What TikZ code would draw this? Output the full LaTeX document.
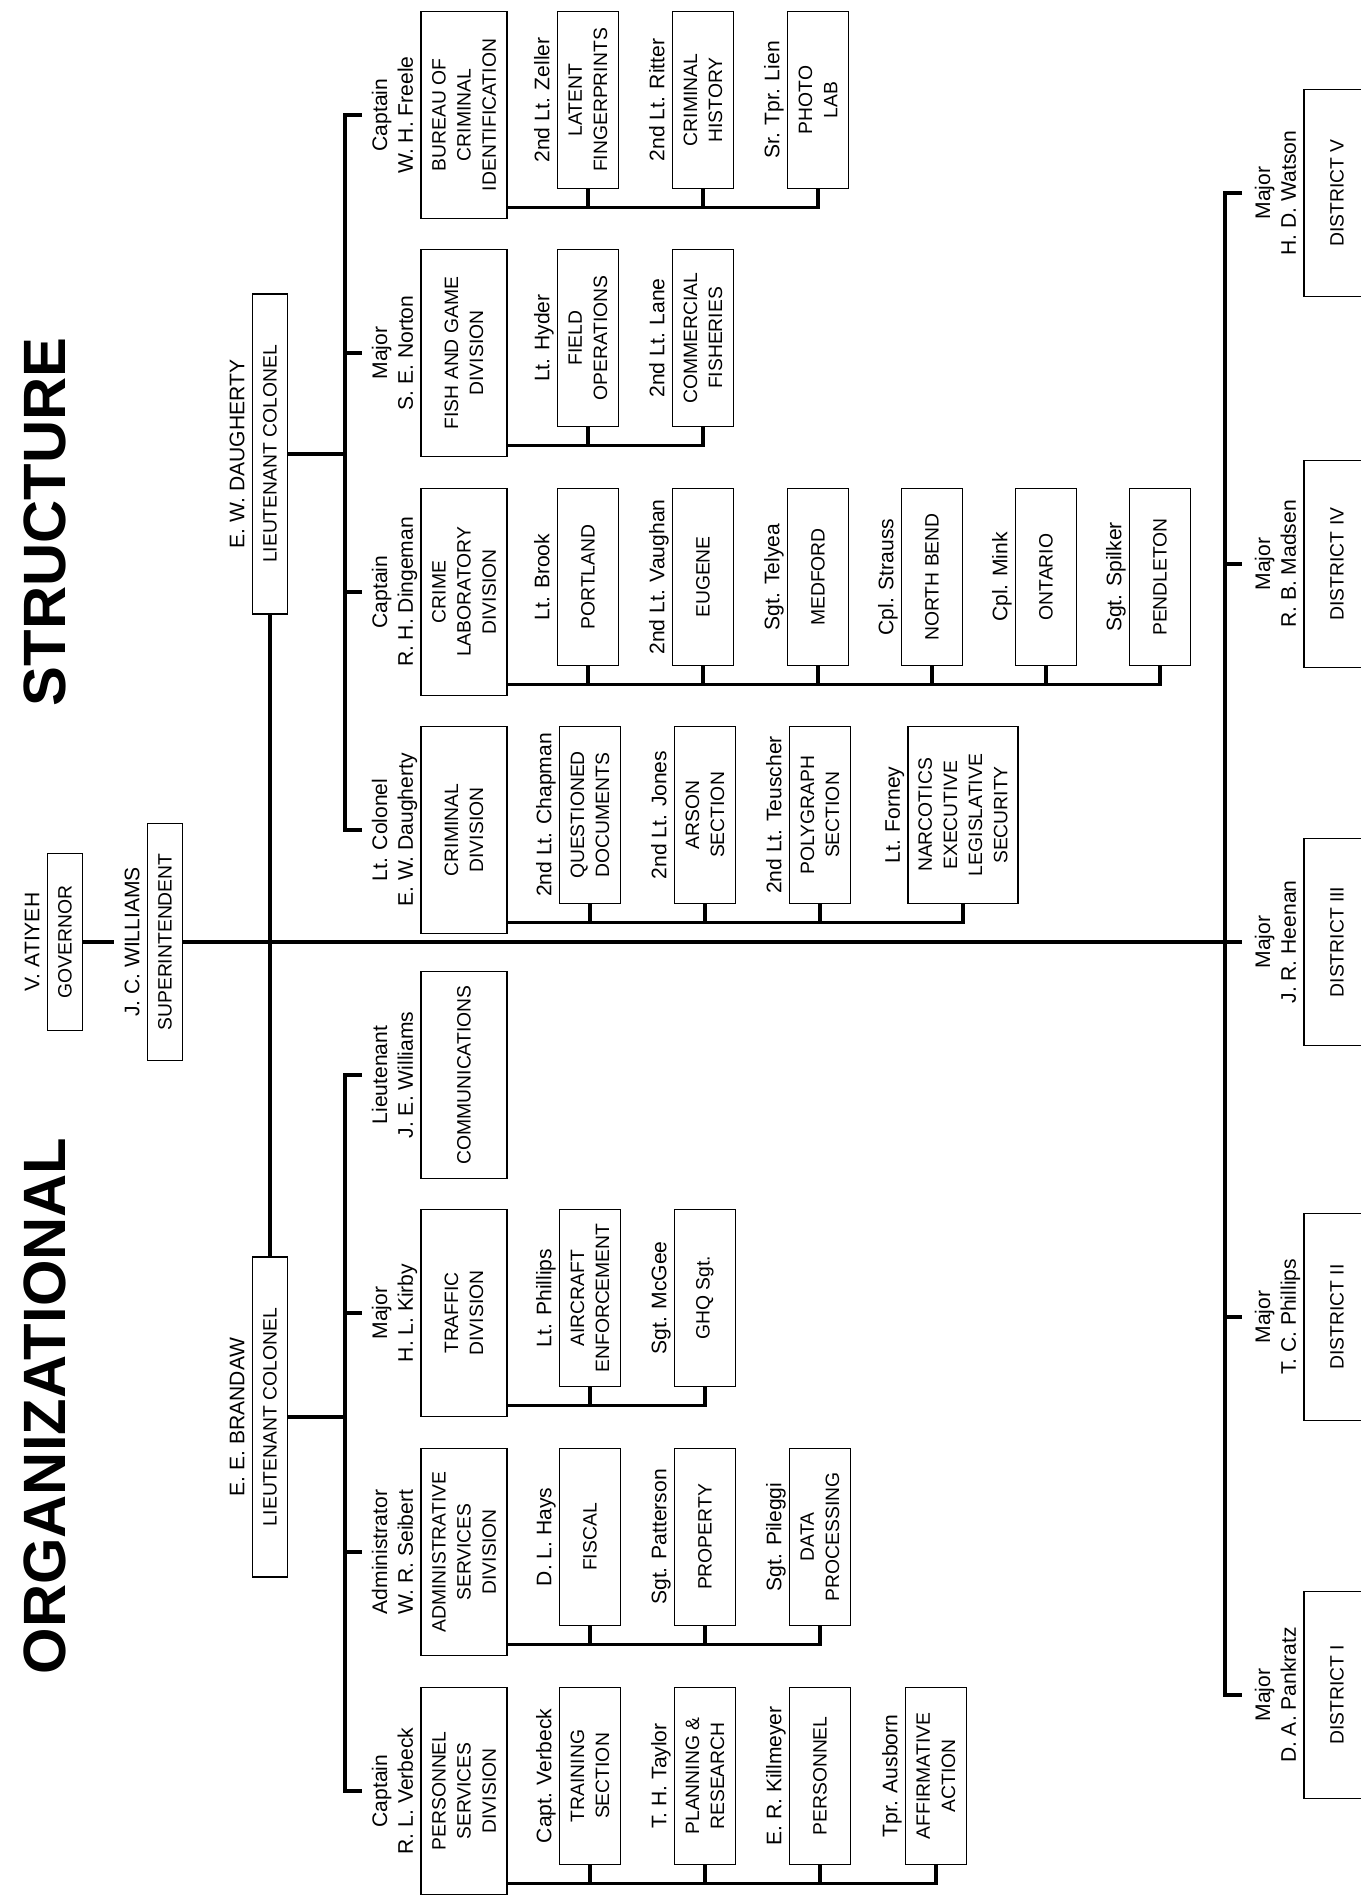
\documentclass[tikz,border=0pt]{standalone}
\usepackage{fontspec}
\setmainfont{Liberation Sans}
\usetikzlibrary{positioning,calc}
\tikzset{
  boxed/.style={draw,line width=0.9pt,align=center,inner sep=1pt,
    font=\fontsize{11}{14.3}\selectfont},
  topbox/.style={boxed,minimum height=0.7cm},
  divbox/.style={boxed,minimum width=4.14cm,minimum height=1.72cm},
  unitbox/.style={boxed,minimum width=3.54cm,minimum height=1.22cm},
  distbox/.style={boxed,minimum width=4.14cm,minimum height=1.32cm},
  who/.style={align=center,inner sep=0pt,text depth=0pt,
    font=\fontsize{12}{14.7}\selectfont},
  headline/.style={inner sep=0pt,font=\fontsize{34}{40}\selectfont\bfseries},
  trunk/.style={line width=2.6pt},
  feed/.style={line width=1.8pt},
  unitstub/.style={line width=2.5pt}
}
\begin{document}
\begin{tikzpicture}[x=0.02cm,y=-0.02cm,node distance=0.14cm]
\begin{scope}[rotate=90,transform shape]
\useasboundingbox (0,0) rectangle (1898,1361);
\clip (0,0) rectangle (1898,1361);

% titles
\node[headline] (orgtitle) at (492,45) {ORGANIZATIONAL};
\node[headline] (structtitle) at (1376,45) {STRUCTURE};

% governor, superintendent, lieutenant colonels
\node[topbox,minimum width=3.54cm] (gov) at (956,65) {GOVERNOR};
\node[who,above=of gov] (govname) {V. ATIYEH};
\node[topbox,minimum width=4.74cm] (sup) at (956,165) {SUPERINTENDENT};
\node[who,above=of sup] (supname) {J. C. WILLIAMS};
\node[topbox,minimum width=6.4cm] (lcd) at (1444,270) {LIEUTENANT COLONEL};
\node[who,above=of lcd] (lcdname) {E. W. DAUGHERTY};
\node[topbox,minimum width=6.4cm] (lcb) at (481,270) {LIEUTENANT COLONEL};
\node[who,above=of lcb] (lcbname) {E. E. BRANDAW};

% divisions
\node[divbox] (bci) at (1783,464) {BUREAU OF\\CRIMINAL\\IDENTIFICATION};
\node[who,above=of bci] (bciname) {Captain\\W. H. Freele};
\node[divbox] (fgd) at (1545,464) {FISH AND GAME\\DIVISION};
\node[who,above=of fgd] (fgdname) {Major\\S. E. Norton};
\node[divbox] (cld) at (1306,464) {CRIME\\LABORATORY\\DIVISION};
\node[who,above=of cld] (cldname) {Captain\\R. H. Dingeman};
\node[divbox] (crd) at (1068,464) {CRIMINAL\\DIVISION};
\node[who,above=of crd] (crdname) {Lt. Colonel\\E. W. Daugherty};
\node[divbox] (com) at (823,464) {COMMUNICATIONS};
\node[who,above=of com] (comname) {Lieutenant\\J. E. Williams};
\node[divbox] (trd) at (585,464) {TRAFFIC\\DIVISION};
\node[who,above=of trd] (trdname) {Major\\H. L. Kirby};
\node[divbox] (asd) at (346,464) {ADMINISTRATIVE\\SERVICES\\DIVISION};
\node[who,above=of asd] (asdname) {Administrator\\W. R. Seibert};
\node[divbox] (psd) at (107,464) {PERSONNEL\\SERVICES\\DIVISION};
\node[who,above=of psd] (psdname) {Captain\\R. L. Verbeck};

% bureau of criminal identification
\node[unitbox] (latent) at (1798,588) {LATENT\\FINGERPRINTS};
\node[who,above=of latent] (latentname) {2nd Lt. Zeller};
\node[unitbox] (crimhist) at (1798,703) {CRIMINAL\\HISTORY};
\node[who,above=of crimhist] (crimhistname) {2nd Lt. Ritter};
\node[unitbox] (photo) at (1798,818) {PHOTO\\LAB};
\node[who,above=of photo] (photoname) {Sr. Tpr. Lien};

% fish and game
\node[unitbox] (fieldops) at (1560,588) {FIELD\\OPERATIONS};
\node[who,above=of fieldops] (fieldopsname) {Lt. Hyder};
\node[unitbox] (comfish) at (1560,703) {COMMERCIAL\\FISHERIES};
\node[who,above=of comfish] (comfishname) {2nd Lt. Lane};

% crime laboratory
\node[unitbox] (portland) at (1321,588) {PORTLAND};
\node[who,above=of portland] (portlandname) {Lt. Brook};
\node[unitbox] (eugene) at (1321,703) {EUGENE};
\node[who,above=of eugene] (eugenename) {2nd Lt. Vaughan};
\node[unitbox] (medford) at (1321,818) {MEDFORD};
\node[who,above=of medford] (medfordname) {Sgt. Telyea};
\node[unitbox] (northbend) at (1321,932) {NORTH BEND};
\node[who,above=of northbend] (northbendname) {Cpl. Strauss};
\node[unitbox] (ontario) at (1321,1046) {ONTARIO};
\node[who,above=of ontario] (ontarioname) {Cpl. Mink};
\node[unitbox] (pendleton) at (1321,1160) {PENDLETON};
\node[who,above=of pendleton] (pendletonname) {Sgt. Spilker};

% criminal division
\node[unitbox] (questdoc) at (1083,590) {QUESTIONED\\DOCUMENTS};
\node[who,above=of questdoc] (questdocname) {2nd Lt. Chapman};
\node[unitbox] (arson) at (1083,705) {ARSON\\SECTION};
\node[who,above=of arson] (arsonname) {2nd Lt. Jones};
\node[unitbox] (polygraph) at (1083,820) {POLYGRAPH\\SECTION};
\node[who,above=of polygraph] (polygraphname) {2nd Lt. Teuscher};
\node[unitbox,minimum height=2.2cm] (narcotics) at (1083,963) {NARCOTICS\\EXECUTIVE\\LEGISLATIVE\\SECURITY};
\node[who,above=of narcotics] (narcoticsname) {Lt. Forney};

% traffic
\node[unitbox] (aircraft) at (600,590) {AIRCRAFT\\ENFORCEMENT};
\node[who,above=of aircraft] (aircraftname) {Lt. Phillips};
\node[unitbox] (ghq) at (600,705) {GHQ Sgt.};
\node[who,above=of ghq] (ghqname) {Sgt. McGee};

% administrative services
\node[unitbox] (fiscal) at (361,590) {FISCAL};
\node[who,above=of fiscal] (fiscalname) {D. L. Hays};
\node[unitbox] (property) at (361,705) {PROPERTY};
\node[who,above=of property] (propertyname) {Sgt. Patterson};
\node[unitbox] (dataproc) at (361,820) {DATA\\PROCESSING};
\node[who,above=of dataproc] (dataprocname) {Sgt. Pileggi};

% personnel services
\node[unitbox] (training) at (122,590) {TRAINING\\SECTION};
\node[who,above=of training] (trainingname) {Capt. Verbeck};
\node[unitbox] (planning) at (122,705) {PLANNING \&\\RESEARCH};
\node[who,above=of planning] (planningname) {T. H. Taylor};
\node[unitbox] (personnel) at (122,820) {PERSONNEL};
\node[who,above=of personnel] (personnelname) {E. R. Killmeyer};
\node[unitbox] (affirm) at (122,936) {AFFIRMATIVE\\ACTION};
\node[who,above=of affirm] (affirmname) {Tpr. Ausborn};

% districts
\node[distbox] (d5) at (1705,1337) {DISTRICT V};
\node[who,above=of d5] (d5name) {Major\\H. D. Watson};
\node[distbox] (d4) at (1334,1337) {DISTRICT IV};
\node[who,above=of d4] (d4name) {Major\\R. B. Madsen};
\node[distbox] (d3) at (956,1337) {DISTRICT III};
\node[who,above=of d3] (d3name) {Major\\J. R. Heenan};
\node[distbox] (d2) at (581,1337) {DISTRICT II};
\node[who,above=of d2] (d2name) {Major\\T. C. Phillips};
\node[distbox] (d1) at (203,1337) {DISTRICT I};
\node[who,above=of d1] (d1name) {Major\\D. A. Pankratz};

% chain of command
\coordinate (divbar) at (0,345);
\coordinate (distbar) at (0,1225);
\draw[trunk,shorten >=0.2cm] (gov.south) -- (supname.north);
\draw[trunk] (sup.south) -- ($(d3.north)+(0,-61)$);
\draw[trunk] (lcd.west) -- (lcb.east);
\draw[trunk] (lcd.south) -- (lcd.south |- divbar);
\draw[trunk] (lcb.south) -- (lcb.south |- divbar);
\draw[trunk] ($(bci.north)+(0,-58)$) -- (bci.north |- divbar) -- (crd.north |- divbar) -- ($(crd.north)+(0,-58)$);
\draw[trunk] (fgd.north |- divbar) -- ($(fgd.north)+(0,-58)$);
\draw[trunk] (cld.north |- divbar) -- ($(cld.north)+(0,-58)$);
\draw[trunk] ($(com.north)+(0,-58)$) -- (com.north |- divbar) -- (psd.north |- divbar) -- ($(psd.north)+(0,-58)$);
\draw[trunk] (trd.north |- divbar) -- ($(trd.north)+(0,-58)$);
\draw[trunk] (asd.north |- divbar) -- ($(asd.north)+(0,-58)$);
\draw[trunk] ($(d5.north)+(0,-61)$) -- (d5.north |- distbar) -- (d1.north |- distbar) -- ($(d1.north)+(0,-61)$);
\draw[trunk] (d4.north |- distbar) -- ($(d4.north)+(0,-61)$);
\draw[trunk] (d2.north |- distbar) -- ($(d2.north)+(0,-61)$);

% feeds to the units
\coordinate (bcifeed) at ($(bci.south west)+(12,0)$);
\draw[feed] (bcifeed) |- (photo.west);
\draw[unitstub] (latent.west) -- (latent.west -| bcifeed) (crimhist.west) -- (crimhist.west -| bcifeed)
  (photo.west) -- (photo.west -| bcifeed);
\coordinate (fgdfeed) at ($(fgd.south west)+(12,0)$);
\draw[feed] (fgdfeed) |- (comfish.west);
\draw[unitstub] (fieldops.west) -- (fieldops.west -| fgdfeed) (comfish.west) -- (comfish.west -| fgdfeed);
\coordinate (cldfeed) at ($(cld.south west)+(12,0)$);
\draw[feed] (cldfeed) |- (pendleton.west);
\draw[unitstub] (portland.west) -- (portland.west -| cldfeed) (eugene.west) -- (eugene.west -| cldfeed)
  (medford.west) -- (medford.west -| cldfeed) (northbend.west) -- (northbend.west -| cldfeed)
  (ontario.west) -- (ontario.west -| cldfeed) (pendleton.west) -- (pendleton.west -| cldfeed);
\coordinate (crdfeed) at ($(crd.south west)+(12,0)$);
\draw[feed] (crdfeed) |- (narcotics.west);
\draw[unitstub] (questdoc.west) -- (questdoc.west -| crdfeed) (arson.west) -- (arson.west -| crdfeed)
  (polygraph.west) -- (polygraph.west -| crdfeed) (narcotics.west) -- (narcotics.west -| crdfeed);
\coordinate (trdfeed) at ($(trd.south west)+(12,0)$);
\draw[feed] (trdfeed) |- (ghq.west);
\draw[unitstub] (aircraft.west) -- (aircraft.west -| trdfeed) (ghq.west) -- (ghq.west -| trdfeed);
\coordinate (asdfeed) at ($(asd.south west)+(12,0)$);
\draw[feed] (asdfeed) |- (dataproc.west);
\draw[unitstub] (fiscal.west) -- (fiscal.west -| asdfeed) (property.west) -- (property.west -| asdfeed)
  (dataproc.west) -- (dataproc.west -| asdfeed);
\coordinate (psdfeed) at ($(psd.south west)+(12,0)$);
\draw[feed] (psdfeed) |- (affirm.west);
\draw[unitstub] (training.west) -- (training.west -| psdfeed) (planning.west) -- (planning.west -| psdfeed)
  (personnel.west) -- (personnel.west -| psdfeed) (affirm.west) -- (affirm.west -| psdfeed);
\end{scope}
\end{tikzpicture}
\end{document}
